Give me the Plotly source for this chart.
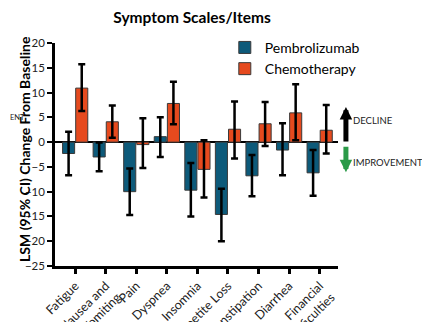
import plotly.graph_objects as go

categories = ['Fatigue', 'Nausea and<br>Vomiting', 'Pain', 'Dyspnea', 'Insomnia',
              'Appetite Loss', 'Constipation', 'Diarrhea', 'Financial<br>Difficulties']

pembro_lsm = [-2.3, -3.0, -10.0, 1.1, -9.7, -14.6, -6.8, -1.6, -6.2]
pembro_lo = [-6.7, -5.9, -14.7, -3.0, -15.0, -20.0, -10.9, -6.7, -10.8]
pembro_hi = [2.1, -0.1, -5.3, 5.0, -4.2, -9.4, -2.6, 3.8, -1.6]

chemo_lsm = [10.9, 4.1, -0.5, 7.8, -5.5, 2.6, 3.7, 5.9, 2.4]
chemo_lo = [6.3, 0.9, -5.2, 3.6, -11.2, -3.3, -0.8, 0.4, -2.3]
chemo_hi = [15.7, 7.4, 4.8, 12.2, 0.4, 8.2, 8.1, 11.7, 7.5]

y_ticks = [-25, -20, -15, -10, -5, 0, 5, 10, 15, 20]

FONT = 'Lato'
BLUE = '#0d5a7a'
ORANGE = '#e64a1e'


def add_series(fig, name, vals, lo, hi, color):
    fig.add_trace(go.Bar(
        name=name,
        x=categories,
        y=vals,
        marker=dict(color=color, line=dict(color='#3a3a3a', width=1)),
        error_y=dict(
            type='data', symmetric=False,
            array=[h - v for h, v in zip(hi, vals)],
            arrayminus=[v - l for v, l in zip(vals, lo)],
            color='black', thickness=2.5, width=3.5,
        ),
    ))


def main():
    fig = go.Figure()
    add_series(fig, 'Pembrolizumab', pembro_lsm, pembro_lo, pembro_hi, BLUE)
    add_series(fig, 'Chemotherapy', chemo_lsm, chemo_lo, chemo_hi, ORANGE)

    fig.update_layout(
        width=430, height=322,
        margin=dict(l=47, r=100, t=35, b=64, autoexpand=False),
        plot_bgcolor='white', paper_bgcolor='white',
        barmode='group', bargap=0.14, bargroupgap=0.08,
        font=dict(family=FONT, color='#222'),
        title=dict(text='<b>Symptom Scales/Items</b>', x=0.428, xanchor='center',
                   y=0.969, yanchor='middle', font=dict(size=15.5, color='black')),
        legend=dict(x=0.6, y=1.05, xanchor='left', yanchor='top',
                    xref='paper', yref='paper', bgcolor='rgba(0,0,0,0)',
                    font=dict(size=14, color='black'), itemwidth=30,
                    tracegroupgap=0),
        showlegend=True,
    )
    fig.update_xaxes(
        range=[-0.66, 8.6], showline=True, linecolor='black', linewidth=2.5,
        ticks='outside', ticklen=5, tickwidth=2.5, tickcolor='black',
        tickangle=-45, tickfont=dict(size=12.5, color='#222'),
        showgrid=False, automargin=False,
    )
    fig.update_yaxes(
        range=[-25, 20], tickvals=y_ticks, showline=True, linecolor='black',
        linewidth=2.5, ticks='outside', ticklen=5, tickwidth=2,
        tickcolor='black', tickfont=dict(size=11.5, color='#222'),
        showgrid=False, zeroline=True, zerolinecolor='black', zerolinewidth=2,
        automargin=False,
    )

    # y axis title
    fig.add_annotation(text='<b>LSM (95% CI) Change From Baseline</b>',
                       xref='paper', yref='paper', x=-0.106, y=0.525,
                       xanchor='center', yanchor='middle',
                       textangle=-90, showarrow=False,
                       font=dict(size=14, color='black'))
    # clipped fragment at the left edge
    fig.add_annotation(text='ENT', xref='paper', yref='paper',
                       x=-0.166, y=0.668, xanchor='left', yanchor='middle',
                       showarrow=False, font=dict(size=7.5, color='#222'))

    # decline / improvement arrows
    fig.add_annotation(x=1.028, y=7.1, xref='paper', yref='y',
                       ax=0, ay=36, axref='pixel', ayref='pixel',
                       text='', showarrow=True, arrowhead=2, arrowsize=0.5,
                       arrowwidth=5, arrowcolor='black')
    fig.add_annotation(x=1.028, y=-6.1, xref='paper', yref='y',
                       ax=0, ay=-27, axref='pixel', ayref='pixel',
                       text='', showarrow=True, arrowhead=2, arrowsize=0.5,
                       arrowwidth=5, arrowcolor='#2a9a48')
    fig.add_annotation(text='DECLINE', xref='paper', yref='y', x=1.045, y=4.4,
                       xanchor='left', showarrow=False,
                       font=dict(size=9.5, color='#222'))
    fig.add_annotation(text='IMPROVEMENT', xref='paper', yref='y', x=1.045, y=-4.2,
                       xanchor='left', showarrow=False,
                       font=dict(size=9.5, color='#222'))

    fig.write_html('out.html')
    return 0


if __name__ == '__main__':
    main()
